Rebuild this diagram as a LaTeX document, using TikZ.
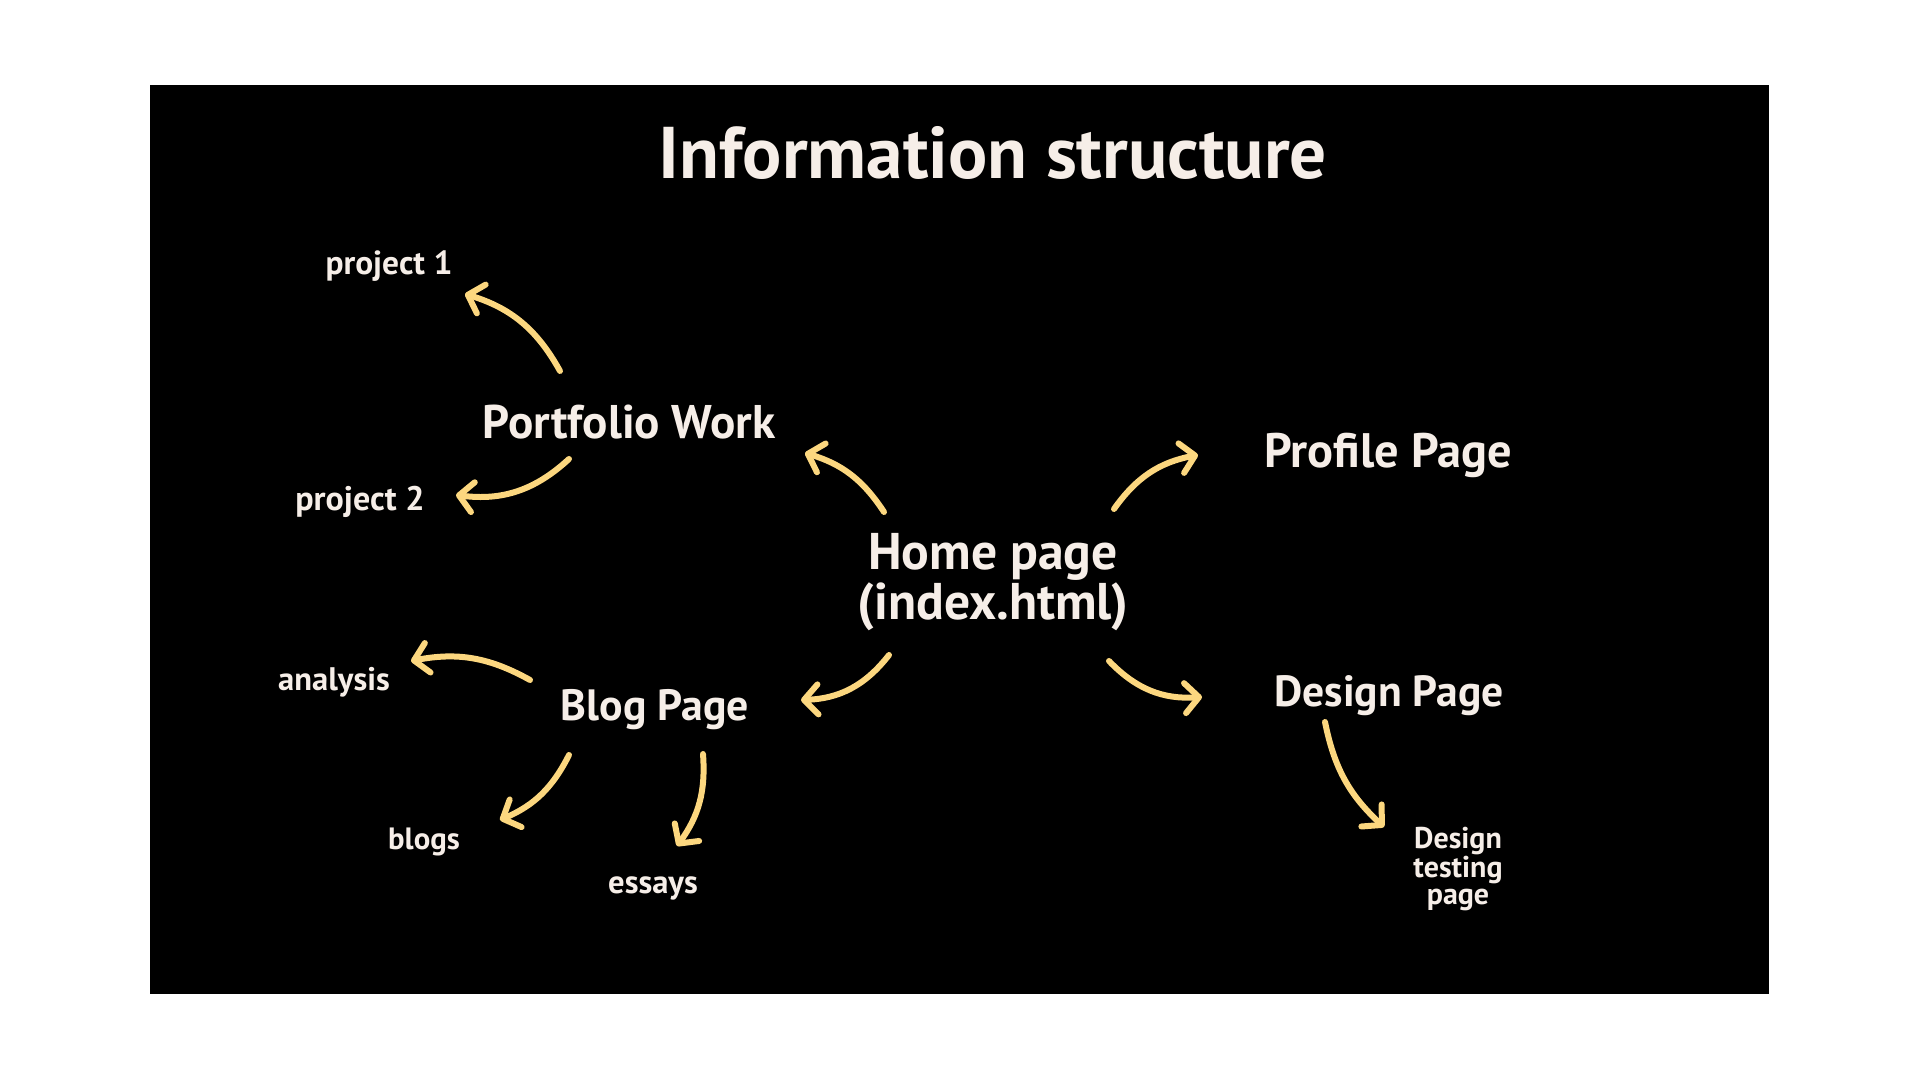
\documentclass[tikz,border=0pt]{standalone}
\usepackage{fontspec}
\setmainfont{PT Sans}
\usetikzlibrary{arrows.meta}
\definecolor{ink}{HTML}{F6EEE8}
\definecolor{arrowc}{HTML}{FCD77F}
\tikzset{
  basetext/.style={text=ink, inner sep=0pt, align=center},
  titletext/.style={basetext, font=\bfseries\fontsize{36.6}{38}\selectfont},
  bigtext/.style={basetext, font=\bfseries\fontsize{#1}{24}\selectfont},
  hometext/.style={basetext, font=\bfseries\fontsize{25.8}{23.5}\selectfont},
  smalltext/.style={basetext, font=\bfseries\fontsize{#1}{13.5}\selectfont},
  arr/.style={draw=arrowc, line width=3pt, line cap=round,
    -{Straight Barb[round,length=7pt,width=15pt]}}
}
\begin{document}
\begin{tikzpicture}[x=0.5pt,y=0.5pt]
\useasboundingbox (0,0) rectangle (1920,1080);
\fill[white] (0,0) rectangle (1920,1080);
\fill[black] (150,86) rectangle (1769,995);

% nodes (y = 1080 - pixel row)
\node[titletext] (title) at (993,927) {Information structure};
\node[bigtext=23.6] (portfolio) at (629,658) {Portfolio Work};
\node[smalltext=16.7] (p1) at (389,814) {project 1};
\node[smalltext=17] (p2) at (360,578) {project 2};
\node[hometext] (home) at (993,498) {Home page\\(index.html)};
\node[bigtext=24.2] (profile) at (1388,625) {Profile Page};
\node[bigtext=21.8] (design) at (1389,384) {Design Page};
\node[bigtext=21.9] (blog) at (655,370) {Blog Page};
\node[smalltext=16.3] (analysis) at (334,398) {analysis};
\node[smalltext=15.4] (blogs) at (424,238) {blogs};
\node[smalltext=16.3] (essays) at (653,192) {essays};
\node[smalltext=15] (testing) at (1458,211) {Design\\testing\\page};

% arrow end points
\coordinate (pw-a) at (560,709);   \coordinate (p1-a) at (465,786);
\coordinate (pw-b) at (569,621);   \coordinate (p2-a) at (456,585);
\coordinate (home-a) at (884,568); \coordinate (pw-c) at (805,627);
\coordinate (home-b) at (1114,571); \coordinate (pr-a) at (1198,625);
\coordinate (home-c) at (889,425); \coordinate (bl-a) at (801,380);
\coordinate (home-d) at (1109,419); \coordinate (de-a) at (1202,383);
\coordinate (bl-b) at (530,400);   \coordinate (an-a) at (411,419);
\coordinate (bl-c) at (569,325);   \coordinate (bs-a) at (500,260);
\coordinate (bl-d) at (703,326);   \coordinate (es-a) at (677,234);
\coordinate (de-b) at (1325,358);  \coordinate (te-a) at (1384,253);

\draw[arr] (pw-a) to[bend right=22] (p1-a);
\draw[arr] (pw-b) to[bend left=25] (p2-a);
\draw[arr] (home-a) to[bend right=20] (pw-c);
\draw[arr] (home-b) to[bend left=22] (pr-a);
\draw[arr] (home-c) to[bend left=25] (bl-a);
\draw[arr] (home-d) to[bend right=25] (de-a);
\draw[arr] (bl-b) to[bend right=20] (an-a);
\draw[arr] (bl-c) to[bend left=20] (bs-a);
\draw[arr] (bl-d) to[bend left=20] (es-a);
\draw[arr] (de-b) to[bend right=18] (te-a);
\end{tikzpicture}
\end{document}
